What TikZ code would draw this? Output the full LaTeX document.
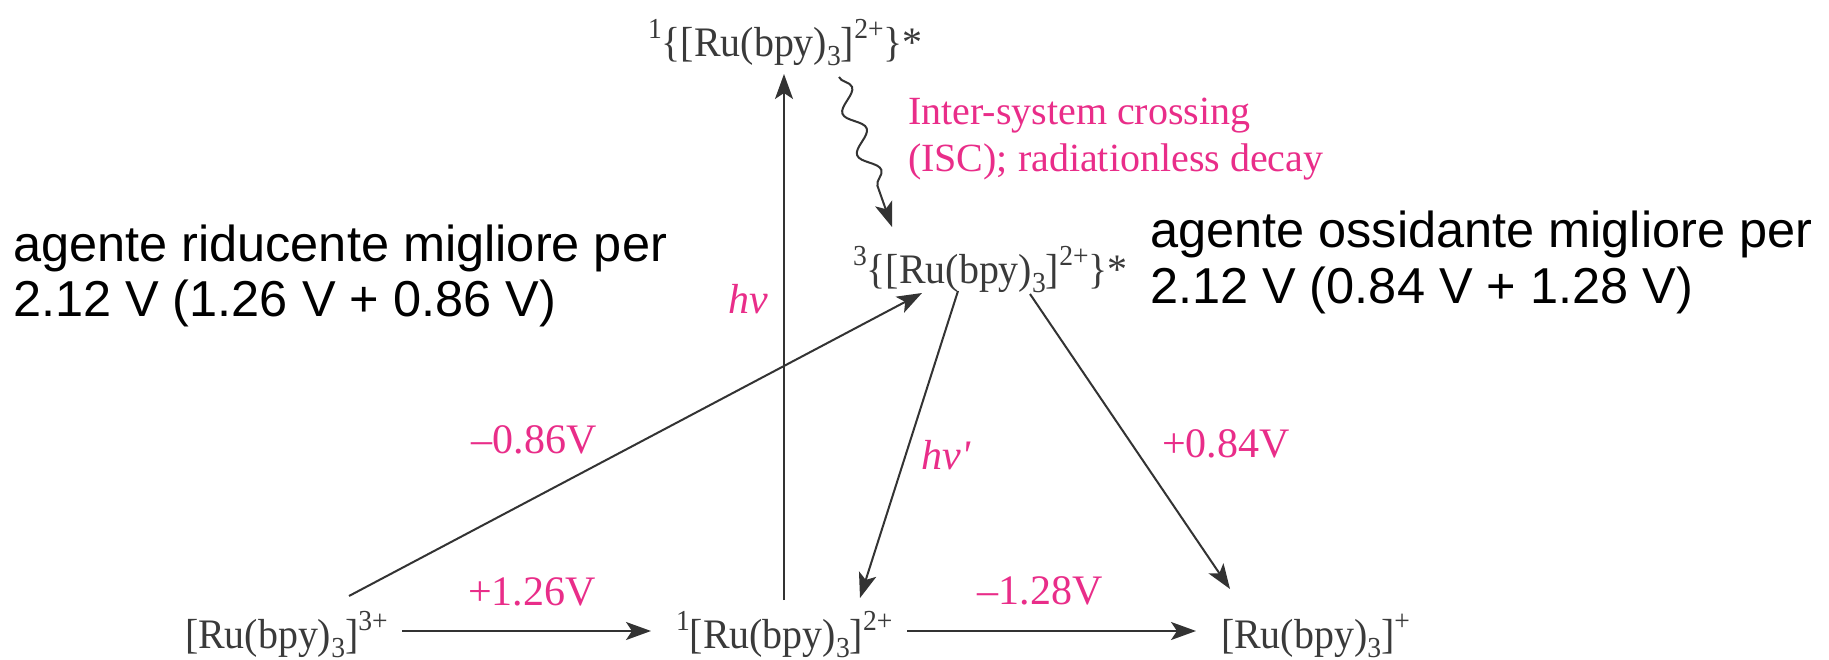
\documentclass[tikz,border=0pt]{standalone}
\usepackage{fontspec}
\setmainfont{Liberation Serif}
\newfontfamily\chemfont[FakeStretch=0.95]{Liberation Serif}
\newfontfamily\bigsans{Liberation Sans}
\usetikzlibrary{arrows.meta,decorations.pathmorphing,calc}
\definecolor{magentalbl}{RGB}{233,45,137}
\definecolor{chemgray}{RGB}{58,58,58}
\definecolor{arrowgray}{RGB}{51,51,51}
\newcommand\chsub[1]{\raisebox{-9pt}{\fontsize{29}{29}\selectfont #1}}
\newcommand\chsup[1]{\raisebox{18pt}{\fontsize{29}{29}\selectfont #1}}
\begin{document}
\begin{tikzpicture}[x=1pt,y=-1pt,
  chem/.style={inner sep=0pt, outer sep=0pt, anchor=base west, text=chemgray, font=\chemfont\fontsize{42}{48}\selectfont},
  lbl/.style={inner sep=0pt, outer sep=0pt, anchor=base, text=magentalbl, font=\fontsize{42}{48}\selectfont},
  isctxt/.style={inner sep=0pt, outer sep=0pt, anchor=base west, text=magentalbl, font=\fontsize{40}{47}\selectfont},
  bigtxt/.style={inner sep=0pt, outer sep=0pt, anchor=base west, text=black, font=\bigsans\fontsize{50.5}{55.5}\selectfont},
  arr/.style={draw=arrowgray, line width=2pt, -{Stealth[length=25pt,width=18pt,inset=6pt]}},
]
\useasboundingbox (0,0) rectangle (1829,660);
\fill[white] (0,0) rectangle (1829,660);

% species
\node[chem] (T) at (648,57) {\chsup{1}\{[Ru(bpy)\chsub{3}]\chsup{2+}\}*};
\node[chem] (M) at (853,284) {\chsup{3}\{[Ru(bpy)\chsub{3}]\chsup{2+}\}*};
\node[chem] (A) at (185,648) {[Ru(bpy)\chsub{3}]\chsup{3+}};
\node[chem] (B) at (676,648) {\chsup{1}[Ru(bpy)\chsub{3}]\chsup{2+}};
\node[chem] (C) at (1221,648) {[Ru(bpy)\chsub{3}]\chsup{+}};

% connectors
\draw[arr] ($(A.base west)+(217,-17)$) -- ($(B.base west)+(-25,-17)$);
\draw[arr] ($(B.base west)+(231,-17)$) -- ($(C.base west)+(-25,-17)$);
\draw[arr] ($(B.base west)+(108,-48)$) -- ($(T.base west)+(136,17)$);
\draw[arr, decorate, decoration={snake, amplitude=9pt, segment length=44pt, post length=24pt}]
  ($(T.base west)+(191,20)$) -- ($(M.base west)+(39,-57)$);
\draw[arr] ($(A.base west)+(164,-52)$) -- ($(M.base west)+(69,9)$);
\draw[arr] ($(M.base west)+(105,7)$) -- ($(B.base west)+(184,-50)$);
\draw[arr] ($(M.base west)+(177,10)$) -- ($(C.base west)+(9,-59)$);

% labels
\node[lbl] (lhv) at (748,314) {\textit{hv}};
\node[lbl] (lhvp) at (946,469) {\textit{hv\textquotesingle}};
\node[lbl] (l086) at (534,453) {–0.86V};
\node[lbl] (l084) at (1226,457) {+0.84V};
\node[lbl] (l126) at (532,605) {+1.26V};
\node[lbl] (l128) at (1040,604) {–1.28V};
\node[isctxt] (isc1) at (908,125) {Inter-system crossing};
\node[isctxt] (isc2) at (908,172) {(ISC); radiationless decay};

% big texts
\node[bigtxt] (red1) at (13,262) {agente riducente migliore per};
\node[bigtxt] (red2) at (13,317) {2.12 V (1.26 V + 0.86 V)};
\node[bigtxt] (ox1) at (1150,248) {agente ossidante migliore per};
\node[bigtxt] (ox2) at (1150,304) {2.12 V (0.84 V + 1.28 V)};
\end{tikzpicture}
\end{document}
